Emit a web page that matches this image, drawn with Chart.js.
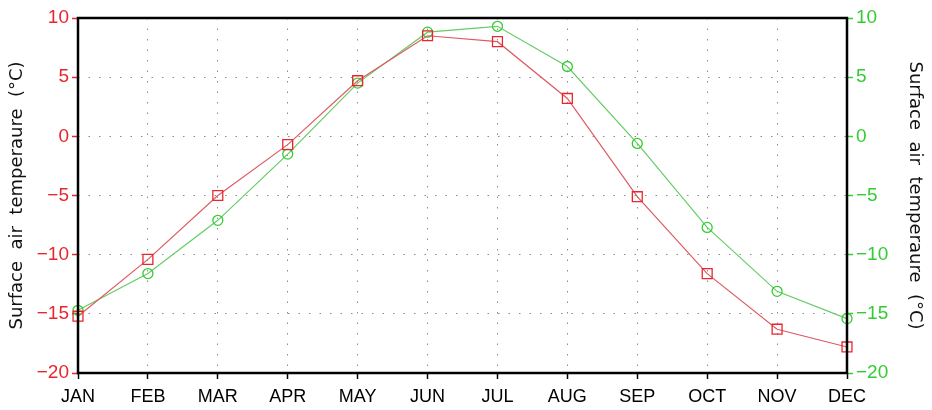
<!DOCTYPE html>
<html>
<head>
<meta charset="utf-8">
<script src="https://cdn.jsdelivr.net/npm/chart.js@4"></script>
<style>
  html, body { margin: 0; padding: 0; background: #fff; }
  #wrap { width: 932px; height: 410px; }
</style>
</head>
<body>
<div id="wrap"><canvas id="temps"></canvas></div>
<script>
// datos
const meses = ['JAN', 'FEB', 'MAR', 'APR', 'MAY', 'JUN', 'JUL', 'AUG', 'SEP', 'OCT', 'NOV', 'DEC'];
const serieRoja = [-15.2, -10.4, -5.0, -0.7, 4.7, 8.5, 8.0, 3.2, -5.1, -11.6, -16.3, -17.8];
const serieVerde = [-14.7, -11.6, -7.1, -1.5, 4.5, 8.8, 9.3, 5.9, -0.6, -7.7, -13.1, -15.4];
const ticksY = [-20, -15, -10, -5, 0, 5, 10];
const tituloY = 'Surface  air  temperaure  (°C)';

const rojo = '#e8262e';
const verde = '#33cc33';
const lineaRoja = '#df5a62';
const lineaVerde = '#66cc66';

// marco negro alrededor del area
const marco = {
  id: 'marco',
  afterDraw(chart) {
    const a = chart.chartArea;
    const ctx = chart.ctx;
    ctx.save();
    ctx.strokeStyle = '#000';
    ctx.lineWidth = 2.5;
    ctx.strokeRect(a.left, a.top, a.right - a.left, a.bottom - a.top);
    ctx.restore();
  }
};

function menos(v) {
  return String(v).replace('-', '\u2212');
}

const ctxTemps = document.getElementById('temps');
const graficaTemps = new Chart(ctxTemps, {
  type: 'line',
  data: {
    labels: meses,
    datasets: [{
      label: 'rojo',
      data: serieRoja,
      yAxisID: 'y',
      borderColor: lineaRoja,
      borderWidth: 1.2,
      pointStyle: 'rect',
      pointRadius: 7,
      pointBorderColor: rojo,
      pointBackgroundColor: 'rgba(0,0,0,0)',
      pointBorderWidth: 1.3,
      tension: 0
    }, {
      label: 'verde',
      data: serieVerde,
      yAxisID: 'y2',
      borderColor: lineaVerde,
      borderWidth: 1.2,
      pointStyle: 'circle',
      pointRadius: 5,
      pointBorderColor: verde,
      pointBackgroundColor: 'rgba(0,0,0,0)',
      pointBorderWidth: 1.3,
      tension: 0
    }]
  },
  options: {
    responsive: true,
    maintainAspectRatio: false,
    animation: false,
    layout: { padding: { top: 18, left: 0, right: 0, bottom: 0 } },
    scales: {
      x: {
        offset: false,
        grid: {
          color: '#8c8c8c',
          lineWidth: 1,
          tickColor: '#000',
          tickLength: 6,
          tickWidth: 1.5,
          tickBorderDash: []
        },
        border: { display: false, dash: [1.5, 9] },
        ticks: {
          color: '#000',
          padding: 7,
          maxRotation: 0,
          autoSkip: false,
          font: { family: 'Liberation Sans', size: 18 }
        },
        afterFit(scale) { scale.height = 37; }
      },
      y: {
        position: 'left',
        min: -20,
        max: 10,
        afterBuildTicks(scale) { scale.ticks = ticksY.map(v => ({ value: v })); },
        grid: {
          color: '#8c8c8c',
          lineWidth: 1,
          tickColor: rojo,
          tickLength: 6,
          tickWidth: 1.5,
          tickBorderDash: []
        },
        border: { display: false, dash: [1.5, 9] },
        ticks: {
          color: rojo,
          padding: 3,
          font: { family: 'Liberation Sans', size: 19 },
          callback: v => menos(v)
        },
        title: {
          display: true,
          text: tituloY,
          color: '#111',
          font: { family: 'DejaVu Sans', size: 18 },
          padding: { top: 7, bottom: 0 }
        },
        afterFit(scale) { scale.width = 78; }
      },
      y2: {
        position: 'right',
        min: -20,
        max: 10,
        afterBuildTicks(scale) { scale.ticks = ticksY.map(v => ({ value: v })); },
        grid: {
          display: true,
          drawOnChartArea: false,
          tickColor: verde,
          tickLength: 6,
          tickWidth: 1.5
        },
        border: { display: false },
        ticks: {
          color: verde,
          padding: 3,
          font: { family: 'Liberation Sans', size: 19 },
          callback: v => menos(v)
        },
        title: {
          display: true,
          text: tituloY,
          color: '#111',
          font: { family: 'DejaVu Sans', size: 18 },
          padding: { top: 7, bottom: 0 }
        },
        afterFit(scale) { scale.width = 85; }
      }
    },
    plugins: {
      legend: { display: false },
      tooltip: { enabled: false }
    }
  },
  plugins: [marco]
});
</script>
</body>
</html>
